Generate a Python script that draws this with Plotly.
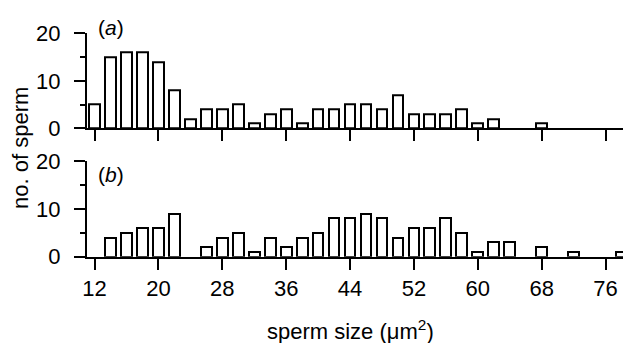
import plotly.graph_objects as go

# bin centres (sperm size, um^2) and counts
sizes_a = [12, 14, 16, 18, 20, 22, 24, 26, 28, 30, 32, 34, 36, 38, 40, 42, 44, 46, 48, 50,
           52, 54, 56, 58, 60, 62, 64, 66, 68]
counts_a = [5, 15, 16, 16, 14, 8, 2, 4, 4, 5, 1, 3, 4, 1, 4, 4, 5, 5, 4, 7,
            3, 3, 3, 4, 1, 2, 0, 0, 1]

sizes_b = [12, 14, 16, 18, 20, 22, 24, 26, 28, 30, 32, 34, 36, 38, 40, 42, 44, 46, 48, 50,
           52, 54, 56, 58, 60, 62, 64, 66, 68, 70, 72, 74, 76, 78]
counts_b = [0, 4, 5, 6, 6, 9, 0, 2, 4, 5, 1, 4, 2, 4, 5, 8, 8, 9, 8, 4,
            6, 6, 8, 5, 1, 3, 3, 0, 2, 0, 1, 0, 0, 1]

x_ticks = [12, 20, 28, 36, 44, 52, 60, 68, 76]
y_ticks = [0, 10, 20]

# the page body adds an 8 px offset, so the figure itself is 8 px smaller
OFF = 8
W, H = 631 - OFF, 343 - OFF
FONT = "Liberation Sans, Arial, sans-serif"
FS = 22
L = 87 - OFF
PW = W - L


def nonzero(xs, ys):
    pairs = [(x, y) for x, y in zip(xs, ys) if y > 0]
    return [p[0] for p in pairs], [p[1] for p in pairs]


def px_y(p):
    return 1 - (p - OFF) / H


def px_x(p):
    return (p - OFF - L) / PW


bar_style = dict(marker=dict(color="white", line=dict(color="black", width=2)),
                 width=1.35, showlegend=False, hoverinfo="x+y")

fig = go.Figure()
xa, ya = nonzero(sizes_a, counts_a)
xb, yb = nonzero(sizes_b, counts_b)
fig.add_trace(go.Bar(x=xa, y=ya, xaxis="x", yaxis="y", **bar_style))
fig.add_trace(go.Bar(x=xb, y=yb, xaxis="x2", yaxis="y2", **bar_style))

xcommon = dict(range=[11.06, 79.19], tickvals=x_ticks, ticks="outside", ticklen=11,
               tickwidth=2, tickcolor="black", showline=True, linecolor="black",
               linewidth=2, showgrid=False, zeroline=False, domain=[0, 1],
               automargin=False)
ycommon = dict(range=[0, 20], tickvals=y_ticks, ticks="outside", ticklen=11,
               tickwidth=2, tickcolor="black", showline=True, linecolor="black",
               linewidth=2, showgrid=False, zeroline=False, automargin=False,
               minor=dict(tickvals=[5, 15], ticks="outside", ticklen=5, tickwidth=2,
                          tickcolor="black"),
               tickfont=dict(family=FONT, size=FS, color="black"), ticklabelstandoff=9)

fig.update_layout(
    width=W, height=H,
    margin=dict(l=L, r=0, t=0, b=0, autoexpand=False),
    paper_bgcolor="white", plot_bgcolor="white",
    bargap=0,
    font=dict(family=FONT, size=FS, color="black"),
    xaxis=dict(anchor="y", showticklabels=False, **xcommon),
    xaxis2=dict(anchor="y2", matches="x", showticklabels=True,
                tickfont=dict(family=FONT, size=FS, color="black"),
                ticklabelstandoff=0, **xcommon),
    yaxis=dict(anchor="x", domain=[px_y(128.3), px_y(33.3)], **ycommon),
    yaxis2=dict(anchor="x2", domain=[px_y(256.7), px_y(161)], **ycommon),
    annotations=[
        dict(text="(<i>a</i>)", xref="paper", yref="paper", x=px_x(96), y=px_y(27),
             xanchor="left", yanchor="middle", showarrow=False,
             font=dict(family=FONT, size=21, color="black")),
        dict(text="(<i>b</i>)", xref="paper", yref="paper", x=px_x(96), y=px_y(175),
             xanchor="left", yanchor="middle", showarrow=False,
             font=dict(family=FONT, size=21, color="black")),
        dict(text="no. of sperm", xref="paper", yref="paper", x=px_x(20), y=px_y(148),
             xanchor="center", yanchor="middle", textangle=-90, showarrow=False,
             font=dict(family=FONT, size=FS, color="black")),
        dict(text="sperm size (\u03bcm<sup>2</sup>)", xref="paper", yref="paper",
             x=px_x(350), y=px_y(330), xanchor="center", yanchor="middle",
             showarrow=False, font=dict(family=FONT, size=FS, color="black")),
    ],
)

fig.write_html("out.html")
